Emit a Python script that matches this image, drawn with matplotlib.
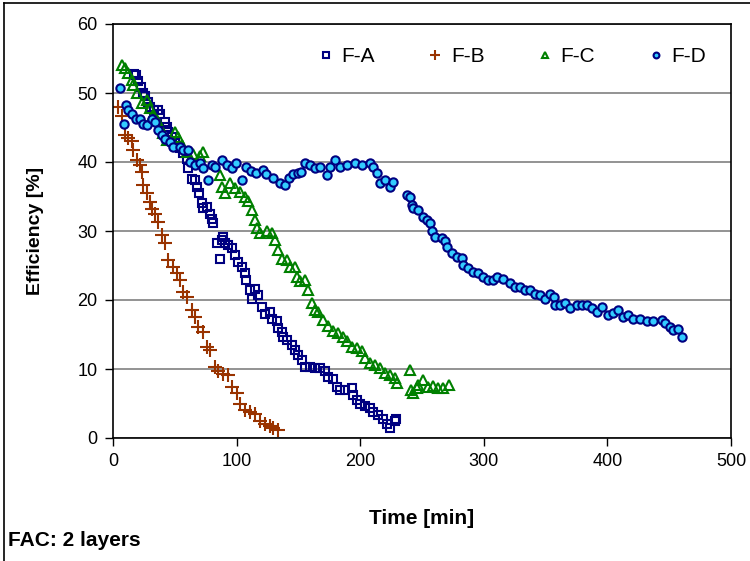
# efficiency vs time, FAC 2 layers
import matplotlib
matplotlib.use('Agg')
import matplotlib.pyplot as plt
from matplotlib.lines import Line2D

plt.rcParams['font.family'] = ['Liberation Sans', 'DejaVu Sans']

# F-A
fa_t = [17.0, 19.0, 20.5, 22.5, 24.5, 25.9, 28.6, 29.9, 33.0, 36.7, 38.0, 42.0, 43.4, 44.8,
        47.5, 50.2, 54.2, 57.0, 59.6, 61.0, 63.7, 66.3, 67.6, 69.8, 71.8, 73.2, 75.8, 78.6,
        79.9, 81.2, 83.9, 86.6, 87.9, 89.2, 90.6, 93.3, 96.0, 98.7, 101.4, 104.0, 106.8, 107.5,
        110.8, 112.2, 114.9, 117.6, 120.3, 123.0, 127.0, 128.4, 132.5, 133.8, 136.5, 137.9,
        140.5, 144.6, 147.2, 150.0, 152.6, 155.3, 159.4, 163.4, 167.5, 171.5, 174.2, 178.3,
        181.0, 183.6, 187.7, 193.0, 194.4, 197.1, 199.8, 203.9, 207.9, 210.6, 214.7, 218.7,
        221.4, 224.1, 228.2, 229.0]
fa_e = [52.8, 52.6, 51.8, 50.8, 50.0, 49.5, 48.7, 48.0, 47.6, 47.5, 46.9, 45.8, 45.1, 44.4,
        43.6, 42.7, 42.0, 41.3, 40.5, 39.1, 37.6, 37.4, 36.4, 35.5, 34.0, 33.3, 33.5, 32.5,
        31.8, 31.1, 28.2, 26.0, 28.7, 29.2, 28.2, 28.0, 27.5, 26.5, 25.5, 24.8, 23.9, 22.9,
        21.4, 20.2, 21.6, 20.7, 19.0, 18.0, 18.2, 17.3, 16.9, 15.9, 15.4, 14.7,
        14.2, 13.5, 12.8, 12.0, 11.3, 10.3, 10.3, 10.1, 10.1, 9.7, 8.9, 8.5,
        7.4, 7.0, 7.0, 7.2, 6.2, 5.5, 5.0, 4.6, 4.3, 3.8, 3.3, 2.8,
        2.1, 1.4, 2.4, 2.7]

# F-B
fb_t = [4.3, 7.0, 9.7, 12.4, 15.1, 16.4, 19.1, 21.5, 23.2, 24.5, 27.2, 29.9, 31.3, 34.0,
        36.7, 39.4, 42.0, 44.8, 48.8, 51.5, 54.2, 57.0, 59.7, 63.7, 66.3, 69.1, 73.1, 75.8,
        78.5, 82.5, 85.2, 89.2, 93.3, 96.0, 100.0, 102.7, 106.8, 110.8, 114.9, 118.9, 123.0,
        127.0, 129.7, 133.7]
fb_e = [48.0, 46.6, 43.9, 43.5, 43.0, 41.8, 40.3, 39.5, 38.6, 36.7, 35.5, 34.2, 33.2, 32.5,
        31.3, 29.4, 28.3, 25.8, 24.8, 23.9, 22.9, 21.2, 20.5, 18.6, 17.6, 16.1, 15.3, 13.2,
        12.8, 10.3, 9.7, 9.3, 9.2, 7.4, 6.5, 5.0, 4.1, 3.7, 3.5, 2.4, 2.0,
        1.7, 1.4, 1.2]

# F-C
fc_t = [7.0, 9.7, 12.4, 15.1, 16.4, 19.1, 23.2, 27.2, 29.9, 32.6, 35.3, 40.7, 43.4, 50.2,
        52.9, 55.6, 59.7, 65.0, 70.5, 73.1, 86.6, 87.9, 90.6, 94.7, 98.7, 102.7, 106.8, 109.5,
        112.2, 114.9, 116.8, 118.9, 124.3, 128.4, 131.1, 133.8, 136.5, 140.5, 143.2, 147.2,
        148.6, 151.3, 155.3, 158.0, 160.7, 163.4, 166.1, 170.2, 174.2, 178.3, 182.3, 186.4,
        189.1, 193.1, 197.2, 201.2, 203.9, 207.9, 212.0, 216.0, 220.0, 224.1, 228.2, 230.0,
        240.3, 241.0, 243.0, 245.7, 247.0, 251.0, 255.0, 259.1, 263.1, 267.2, 272.0]
fc_e = [54.1, 53.6, 52.9, 51.9, 51.2, 50.0, 48.5, 49.0, 47.8, 46.8, 46.1, 44.2, 43.2, 44.4,
        43.6, 42.4, 41.5, 41.2, 40.8, 41.4, 38.1, 36.4, 35.5, 36.9, 36.2, 35.6, 35.0, 34.3,
        33.0, 31.6, 30.5, 29.7, 30.0, 29.7, 28.7, 27.2, 26.0, 25.8, 24.8, 24.8,
        23.4, 22.7, 22.9, 21.4, 19.5, 18.6, 18.2, 17.1, 16.2, 15.5, 15.2, 14.7,
        14.0, 13.2, 13.0, 12.6, 11.6, 10.9, 10.6, 10.1, 9.4, 9.2, 8.7, 8.0,
        9.9, 7.0, 6.5, 7.2, 7.7, 8.4, 7.4, 7.6, 7.2, 7.2, 7.7]

# F-D
fd_t = [5.7, 8.9, 10.5, 12.4, 15.1, 18.6, 21.8, 24.5, 27.2, 31.3, 34.0, 36.7, 39.4, 42.0,
        46.0, 48.8, 54.2, 57.0, 60.5, 62.3, 66.3, 70.4, 73.0, 77.1, 79.8, 82.5, 87.9, 92.0,
        96.0, 99.5, 104.0, 108.0, 112.0, 116.0, 121.6, 124.0, 129.6, 135.0, 139.0, 142.0,
        146.0, 150.0, 152.0, 155.3, 159.4, 163.4, 167.4, 172.9, 175.6, 179.6, 183.6, 189.0,
        195.8, 201.2, 207.9, 210.6, 213.3, 216.0, 220.0, 224.1, 226.8, 237.6, 240.3, 241.6,
        243.0, 247.0, 251.0, 253.7, 256.4, 257.8, 260.5, 265.9, 268.6, 270.0, 274.0, 278.1,
        282.1, 283.5, 287.5, 291.6, 295.6, 299.7, 303.7, 307.7, 310.4, 315.8, 321.2, 325.3,
        329.4, 333.3, 337.4, 341.4, 345.5, 349.5, 353.5, 356.8, 357.6, 361.7, 365.7, 369.7,
        375.1, 379.2, 383.2, 387.3, 391.3, 395.4, 400.8, 404.9, 408.9, 412.9, 417.0, 421.0,
        426.4, 431.8, 437.2, 443.9, 446.6, 450.7, 453.4, 457.4, 460.1]
fd_e = [50.7, 45.5, 48.3, 47.6, 46.9, 46.3, 46.2, 45.5, 45.4, 46.2, 45.8, 44.6, 43.9, 43.4,
        42.9, 42.2, 42.2, 41.7, 41.7, 40.0, 39.6, 39.8, 39.1, 37.4, 39.6, 39.3, 40.3, 39.6,
        39.1, 39.9, 37.4, 39.3, 38.7, 38.4, 38.8, 38.2, 37.7, 36.9, 36.7, 37.7,
        38.2, 38.4, 38.6, 39.8, 39.6, 39.1, 39.3, 38.1, 39.3, 40.3, 39.3, 39.6,
        39.8, 39.6, 39.8, 39.3, 38.4, 36.9, 37.4, 36.4, 37.1, 35.2, 35.0, 33.8,
        33.3, 33.0, 32.1, 31.6, 31.2, 30.0, 29.2, 29.0, 28.5, 27.7, 26.8, 26.3,
        26.1, 25.1, 24.6, 24.1, 23.9, 23.4, 22.9, 22.9, 23.4, 23.1, 22.4, 21.9,
        21.9, 21.4, 21.4, 20.9, 20.7, 20.2, 20.9, 20.5, 19.3, 19.3, 19.5, 18.8,
        19.3, 19.3, 19.3, 18.8, 18.3, 19.0, 17.8, 18.1, 18.6, 17.6, 17.8, 17.3,
        17.3, 17.0, 17.0, 17.1, 16.6, 16.1, 15.6, 15.8, 14.7]

fig = plt.figure(figsize=(7.5, 5.61), dpi=100)
ax = fig.add_axes([113/750, 1 - 438/561, (731 - 113)/750, (438 - 24)/561])

ax.plot(fa_t, fa_e, ls='none', marker='s', ms=5.5, mfc='none', mec='#000080', mew=1.5, label='F-A')
ax.plot(fb_t, fb_e, ls='none', marker='+', ms=10, mec='#993300', mew=1.5, label='F-B')
ax.plot(fc_t, fc_e, ls='none', marker='^', ms=6.5, mfc='none', mec='#008000', mew=1.5, label='F-C')
ax.plot(fd_t, fd_e, ls='none', marker='o', ms=6, mfc='#33CCFF', mec='#000080', mew=1.5, label='F-D')

ax.set_xlim(0, 500)
ax.set_ylim(0, 60)
ax.set_xticks(range(0, 501, 100))
ax.set_yticks(range(0, 61, 10))
ax.yaxis.grid(True, color='#808080', lw=1.2)
ax.set_axisbelow(True)
ax.tick_params(direction='out', length=6, width=1, labelsize=13, pad=5)
for s in ax.spines.values():
    s.set_linewidth(1.2)

ax.set_xlabel('Time [min]', fontsize=15, fontweight='bold', labelpad=28)
ax.set_ylabel('Efficiency [%]', fontsize=14, fontweight='bold', labelpad=24)

ax.legend(loc='upper right', ncol=4, frameon=False, fontsize=15, handletextpad=0.2,
          columnspacing=2.35, handlelength=1.1, markerscale=0.7, bbox_to_anchor=(0.99, 0.99))

fig.text(8/750, 1 - 540/561, 'FAC: 2 layers', fontsize=15, fontweight='bold', va='center')

# outer frame (left and top edges visible)
fig.add_artist(Line2D([4/750, 4/750], [0, 1 - 3/561], color='black', lw=1.2))
fig.add_artist(Line2D([4/750, 1], [1 - 3/561, 1 - 3/561], color='black', lw=1.2))

fig.savefig('out.png', dpi=100)
